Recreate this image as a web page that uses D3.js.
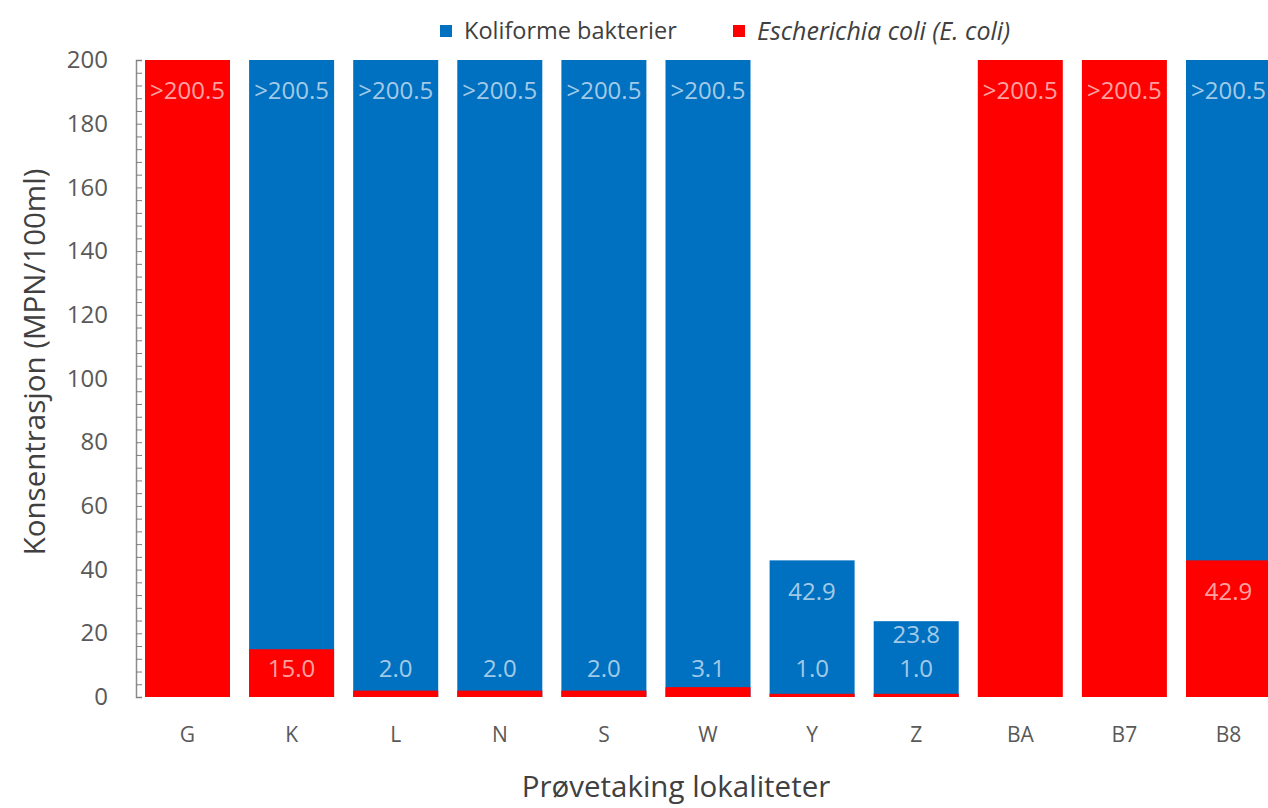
<!DOCTYPE html>
<html>
<head>
<meta charset="utf-8">
<script src="https://cdn.jsdelivr.net/npm/d3@7"></script>
<style>
  html, body { margin: 0; padding: 0; background: #fff; }
  svg { display: block; font-family: "Open Sans", sans-serif; }
</style>
</head>
<body>
<svg id="chart" width="1268" height="808"></svg>
<script>
const categories = ["G", "K", "L", "N", "S", "W", "Y", "Z", "BA", "B7", "B8"];
// Koliforme bakterier (null = hidden behind the E. coli bar)
const koliforme = [null, 200.5, 200.5, 200.5, 200.5, 200.5, 42.9, 23.8, null, null, 200.5];
// Escherichia coli (E. coli)
const ecoli = [200.5, 15.0, 2.0, 2.0, 2.0, 3.1, 1.0, 1.0, 200.5, 200.5, 42.9];
const yTicks = [0, 20, 40, 60, 80, 100, 120, 140, 160, 180, 200];
const seriesNames = ["Koliforme bakterier", "Escherichia coli (E. coli)"];
const colors = ["#0070C0", "#FF0000"];

const svg = d3.select("#chart");
const x = d3.scaleBand().domain(categories).range([136, 1280])
  .paddingInner(0.1835).paddingOuter(0.0865);
const y = d3.scaleLinear().domain([0, 200]).range([697, 60]).clamp(true);

const fmt = v => (v > 200 ? ">" : "") + v.toFixed(1);

// bars: blue first, red overlapped on top
const series = [koliforme, ecoli];
series.forEach((vals, si) => {
  svg.append("g").selectAll("rect")
    .data(categories.map((c, i) => ({c, v: vals[i]})).filter(d => d.v != null))
    .join("rect")
    .attr("x", d => x(d.c))
    .attr("width", x.bandwidth())
    .attr("y", d => y(d.v))
    .attr("height", d => y(0) - y(d.v))
    .attr("fill", colors[si]);
});

// data labels
const lblG = svg.append("g")
  .attr("font-size", 24).attr("fill", "#fff").attr("fill-opacity", 0.65)
  .attr("text-anchor", "middle");
categories.forEach((c, i) => {
  const cx = x(c) + x.bandwidth() / 2;
  const r = ecoli[i], b = koliforme[i];
  let ry = null;
  if (r != null) {
    ry = Math.min(y(r) + 31, y(0) - 28);
    lblG.append("text").attr("x", cx).attr("y", ry).attr("dy", "0.35em").text(fmt(r));
  }
  if (b != null && (r == null || b > r)) {
    let by = Math.min(y(b) + 31, y(0) - 28);
    if (ry != null && by > ry - 34) by = ry - 34;
    lblG.append("text").attr("x", cx).attr("y", by).attr("dy", "0.35em").text(fmt(b));
  }
});

// y axis with minor ticks
const yAxis = d3.axisRight(y).tickValues(d3.range(0, 201, 4)).tickSize(6).tickFormat("");
const ya = svg.append("g").attr("transform", "translate(136,0)").call(yAxis);
ya.select(".domain").attr("stroke", "#8c8c8c").attr("stroke-width", 1.5);
ya.selectAll(".tick line").attr("stroke", "#7f7f7f");

const yLabels = d3.axisLeft(y).tickValues(yTicks).tickSize(0).tickPadding(28);
const yl = svg.append("g").attr("transform", "translate(136,0)").call(yLabels);
yl.select(".domain").remove();
yl.selectAll("text").attr("font-size", 24).attr("fill", "#595959")
  .attr("font-family", "Open Sans, sans-serif");

// x axis labels
const xa = svg.append("g").attr("transform", "translate(0,697)")
  .call(d3.axisBottom(x).tickSize(0).tickPadding(30));
xa.select(".domain").remove();
xa.selectAll("text").attr("font-size", 21).attr("fill", "#595959")
  .attr("font-family", "Open Sans, sans-serif");

// axis titles
svg.append("text").attr("x", 676).attr("y", 797).attr("text-anchor", "middle")
  .attr("font-size", 29.5).attr("fill", "#404040").text("Prøvetaking lokaliteter");
svg.append("text").attr("transform", "translate(45,362) rotate(-90)")
  .attr("text-anchor", "middle").attr("font-size", 29.5).attr("fill", "#404040")
  .text("Konsentrasjon (MPN/100ml)");

// legend
const leg = svg.append("g");
const legX = [440, 733];
seriesNames.forEach((n, i) => {
  leg.append("rect").attr("x", legX[i]).attr("y", 25).attr("width", 12).attr("height", 12)
    .attr("fill", colors[i]);
  leg.append("text").attr("x", legX[i] + 24).attr("y", 31).attr("dy", "0.35em")
    .attr("font-size", i === 1 ? 25 : 23.5).attr("fill", "#404040")
    .attr("font-style", i === 1 ? "italic" : "normal").text(n);
});
</script>
</body>
</html>
